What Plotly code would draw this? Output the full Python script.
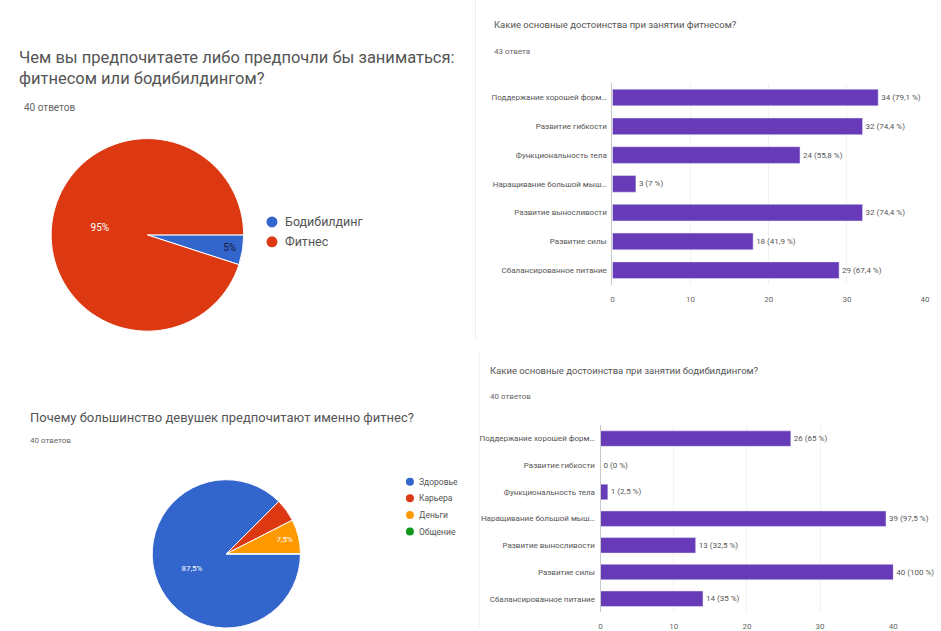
import plotly.graph_objects as go

W, H = 941, 631


def px(x):
    return x / W


def py(y):
    return 1 - y / H


# ---------------- data ----------------
q1_title = ["Чем вы предпочитаете либо предпочли бы заниматься:", "фитнесом или бодибилдингом?"]
q1_answers = "40 ответов"
q1_labels = ["Бодибилдинг", "Фитнес"]
q1_values = [2, 38]
q1_colors = ["#3366cc", "#dc3912"]

q2_title = "Какие основные достоинства при занятии фитнесом?"
q2_answers = "43 ответа"
q2_categories = ["Поддержание хорошей форм…", "Развитие гибкости", "Функциональность тела",
                 "Наращивание большой мыш…", "Развитие выносливости", "Развитие силы",
                 "Сбалансированное питание"]
q2_counts = [34, 32, 24, 3, 32, 18, 29]
q2_total = 43

q3_title = "Почему большинство девушек предпочитают именно фитнес?"
q3_answers = "40 ответов"
q3_labels = ["Здоровье", "Карьера", "Деньги", "Общение"]
q3_values = [35, 2, 3, 0]
q3_colors = ["#3366cc", "#dc3912", "#ff9900", "#109618"]

q4_title = "Какие основные достоинства при занятии бодибилдингом?"
q4_answers = "40 ответов"
q4_categories = ["Поддержание хорошей форм…", "Развитие гибкости", "Функциональность тела",
                 "Наращивание большой мыш…", "Развитие выносливости", "Развитие силы",
                 "Сбалансированное питание"]
q4_counts = [26, 0, 1, 39, 13, 40, 14]
q4_total = 40

x_ticks = [0, 10, 20, 30, 40]

BAR_COLOR = "#673ab7"
FONT = "Roboto"


def fmt_pct(p):
    s = f"{p:.1f}"
    if s.endswith(".0"):
        s = s[:-2]
    return s.replace(".", ",")


def bar_text(counts, total):
    return [f"{c} ({fmt_pct(100 * c / total)} %)" for c in counts]


def pie_text(values, min_pct):
    tot = sum(values)
    out = []
    for v in values:
        p = 100 * v / tot
        out.append(f"{fmt_pct(p)}%" if p >= min_pct else "")
    return out


fig = go.Figure()

# ---------- pie 1 ----------
fig.add_trace(go.Pie(
    labels=q1_labels, values=q1_values, sort=False, direction="clockwise", rotation=90,
    text=pie_text(q1_values, 0), textinfo="text", textposition="inside",
    insidetextfont=dict(color=["#1a1a40", "white"], size=10, family=FONT),
    marker=dict(colors=q1_colors, line=dict(color="white", width=1)),
    domain=dict(x=[px(49.5), px(243.5)], y=[py(333), py(139)]),
    showlegend=False, hoverinfo="label+percent",
))

# ---------- pie 2 ----------
fig.add_trace(go.Pie(
    labels=q3_labels, values=q3_values, sort=False, direction="clockwise", rotation=90,
    text=pie_text(q3_values, 6), textinfo="text", textposition="inside",
    insidetextfont=dict(color="white", size=8, family=FONT),
    marker=dict(colors=q3_colors, line=dict(color="white", width=1)),
    domain=dict(x=[px(151), px(301)], y=[0, py(482)]),
    showlegend=False, hoverinfo="label+percent",
))

# ---------- bar 1 ----------
fig.add_trace(go.Bar(
    x=q2_counts, y=q2_categories, orientation="h", marker_color=BAR_COLOR,
    text=bar_text(q2_counts, q2_total), textposition="outside", cliponaxis=False,
    textfont=dict(size=8, color="#555", family=FONT), showlegend=False,
    xaxis="x", yaxis="y",
))

# ---------- bar 2 ----------
fig.add_trace(go.Bar(
    x=q4_counts, y=q4_categories, orientation="h", marker_color=BAR_COLOR,
    text=bar_text(q4_counts, q4_total), textposition="outside", cliponaxis=False,
    textfont=dict(size=8, color="#555", family=FONT), showlegend=False,
    xaxis="x2", yaxis="y2",
))

axis_common_x = dict(range=[0, 40], tickvals=x_ticks, showgrid=True, gridcolor="#f2f2f2",
                     zeroline=False, showline=False, ticks="", fixedrange=True,
                     tickfont=dict(size=8, color="#666", family=FONT), ticklabelstandoff=8)
axis_common_y = dict(type="category", autorange="reversed", showline=True, linecolor="#c8c8c8",
                     ticks="", showgrid=False, tickfont=dict(size=8, color="#555", family=FONT),
                     ticklabelstandoff=3)

fig.update_layout(
    width=W, height=H,
    margin=dict(l=0, r=0, t=0, b=0),
    paper_bgcolor="white", plot_bgcolor="white",
    font=dict(family=FONT, color="#333"),
    bargap=0.42,
    showlegend=False,
    xaxis=dict(domain=[px(615), px(930)], anchor="y", **axis_common_x),
    yaxis=dict(domain=[py(286), py(83.5)], anchor="x", **axis_common_y),
    xaxis2=dict(domain=[px(603), px(898)], anchor="y2", **axis_common_x),
    yaxis2=dict(domain=[py(615), py(427.3)], anchor="x2", **axis_common_y),
)

annots = [
    (15, 58, q1_title[0], 16.5, "#555"),
    (15, 79, q1_title[1], 16.5, "#555"),
    (20, 108, q1_answers, 10, "#666"),
    (494, 25, q2_title, 9.5, "#555"),
    (494, 52, q2_answers, 8, "#666"),
    (26, 419, q3_title, 13, "#555"),
    (26, 443, q3_answers, 8, "#666"),
    (490, 372, q4_title, 9.5, "#555"),
    (490, 398, q4_answers, 8, "#666"),
]
for x, y, t, s, c in annots:
    fig.add_annotation(x=px(x), y=py(y), xref="paper", yref="paper", text=t, showarrow=False,
                       xanchor="left", yanchor="middle", font=dict(size=s, color=c, family=FONT))


# ---------- legends (Google-style round markers) ----------
def add_legend(labels, colors, cx, cy0, step, r, text_x, size):
    for i, (lab, col) in enumerate(zip(labels, colors)):
        cy = cy0 + i * step
        fig.add_shape(type="circle", xref="paper", yref="paper",
                      x0=px(cx - r), x1=px(cx + r), y0=py(cy + r), y1=py(cy - r),
                      fillcolor=col, line=dict(width=0))
        fig.add_annotation(x=px(text_x), y=py(cy), xref="paper", yref="paper", text=lab,
                           showarrow=False, xanchor="left", yanchor="middle",
                           font=dict(size=size, color="#555", family=FONT))


add_legend(q1_labels, q1_colors, 272, 223, 20, 5.5, 283, 12.5)
add_legend(q3_labels, q3_colors, 411, 484, 16.7, 4, 418, 8.5)

# faint card borders
fig.add_shape(type="line", xref="paper", yref="paper", x0=px(477), x1=px(477), y0=py(0), y1=py(340),
              line=dict(color="#efefef", width=1))
fig.add_shape(type="line", xref="paper", yref="paper", x0=px(481), x1=px(481), y0=py(352), y1=py(631),
              line=dict(color="#f2f2f2", width=1))

fig.write_html("out.html")
